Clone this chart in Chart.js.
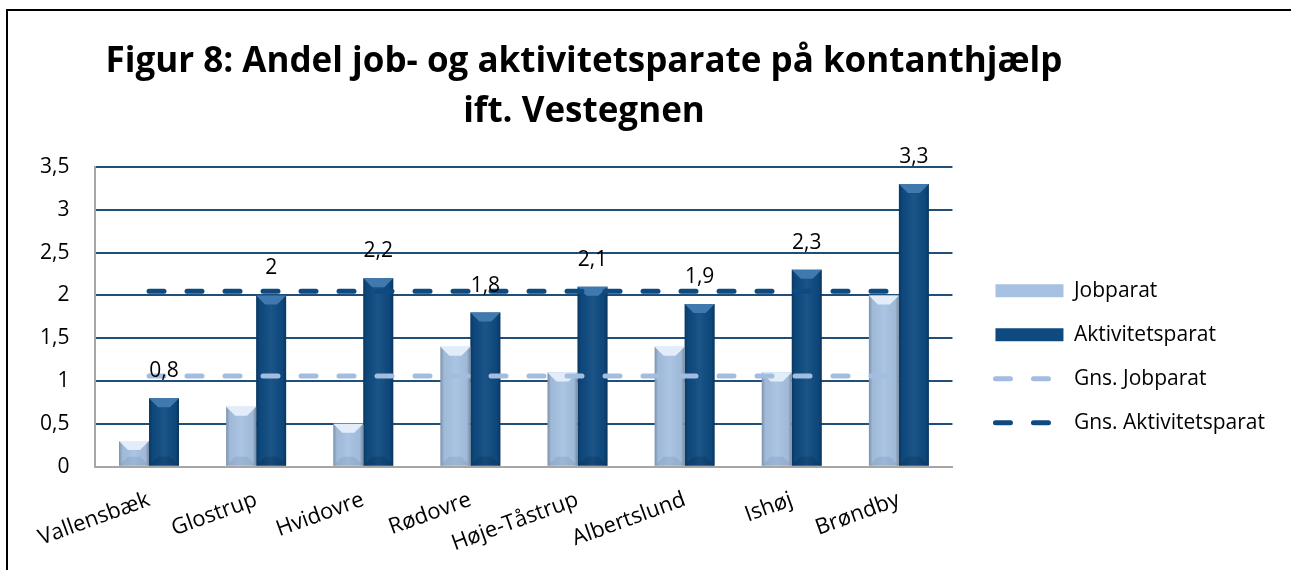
<!DOCTYPE html>
<html>
<head>
<meta charset="utf-8">
<script src="https://cdn.jsdelivr.net/npm/chart.js@4.4.0/dist/chart.umd.min.js"></script>
<style>
  html, body { margin: 0; padding: 0; background: #fff; }
  #wrap { position: relative; width: 1291px; height: 570px; overflow: hidden; }
  #frame { position: absolute; left: 6px; top: 9px; width: 1300px; height: 600px;
           border-top: 2px solid #000; border-left: 2px solid #000; }
  #title { position: absolute; left: 0; top: 34px; width: 1168px; text-align: center;
           font: bold 35px "Open Sans"; line-height: 50px; color: #000; }
  #chart { position: absolute; left: 0; top: 0; }
</style>
</head>
<body>
<div id="wrap">
  <div id="frame"></div>
  <canvas id="chart" width="1291" height="570"></canvas>
  <div id="title">Figur 8: Andel job- og aktivitetsparate på kontanthjælp<br>ift. Vestegnen</div>
</div>
<script>
const kommuner = ['Vallensbæk', 'Glostrup', 'Hvidovre', 'Rødovre', 'Høje-Tåstrup', 'Albertslund', 'Ishøj', 'Brøndby'];
const jobparat = [0.3, 0.7, 0.5, 1.4, 1.1, 1.4, 1.1, 2.0];
const aktivitetsparat = [0.8, 2, 2.2, 1.8, 2.1, 1.9, 2.3, 3.3];
const gnsJobparat = [1.06, 1.06, 1.06, 1.06, 1.06, 1.06, 1.06, 1.06];
const gnsAktivitetsparat = [2.05, 2.05, 2.05, 2.05, 2.05, 2.05, 2.05, 2.05];
const yMin = 0, yMax = 3.5, yStep = 0.5;

const fmt = v => String(v).replace('.', ',');

// light top / dark bottom bevel, shaded sides
const bevel = {
  id: 'bevel',
  afterDatasetDraw(chart, args) {
    if (args.meta.type !== 'bar') return;
    const ctx = chart.ctx;
    const topCol = args.index === 0 ? '#e2edf9' : '#3f79ae';
    const botCol = args.index === 0 ? 'rgba(110,140,180,0.25)' : 'rgba(5,40,75,0.25)';
    ctx.save();
    args.meta.data.forEach(el => {
      const { x, y, base, width } = el.getProps(['x', 'y', 'base', 'width'], true);
      const l = x - width / 2, r = x + width / 2;
      const b = Math.min(9, (base - y) / 2);
      const g = ctx.createLinearGradient(l, 0, r, 0);
      g.addColorStop(0, 'rgba(0,0,0,0.25)');
      g.addColorStop(0.12, 'rgba(0,0,0,0.04)');
      g.addColorStop(0.5, 'rgba(255,255,255,0.06)');
      g.addColorStop(0.88, 'rgba(0,0,0,0.04)');
      g.addColorStop(1, 'rgba(0,0,0,0.28)');
      ctx.fillStyle = g;
      ctx.fillRect(l, y, width, base - y);
      ctx.fillStyle = topCol;
      ctx.beginPath();
      ctx.moveTo(l, y); ctx.lineTo(r, y); ctx.lineTo(r - b, y + b); ctx.lineTo(l + b, y + b);
      ctx.closePath(); ctx.fill();
      ctx.fillStyle = botCol;
      ctx.beginPath();
      ctx.moveTo(l, base); ctx.lineTo(r, base); ctx.lineTo(r - b, base - b); ctx.lineTo(l + b, base - b);
      ctx.closePath(); ctx.fill();
    });
    ctx.restore();
  }
};

// value labels above the Aktivitetsparat bars
const valueLabels = {
  id: 'valueLabels',
  afterDatasetsDraw(chart) {
    const ctx = chart.ctx;
    const meta = chart.getDatasetMeta(1);
    ctx.save();
    ctx.font = '21px "Open Sans"';
    ctx.fillStyle = '#000';
    ctx.textAlign = 'center';
    ctx.textBaseline = 'middle';
    meta.data.forEach((el, i) => ctx.fillText(fmt(aktivitetsparat[i]), el.x, el.y - 27));
    ctx.restore();
  }
};

Chart.defaults.font.family = '"Open Sans"';
Chart.defaults.color = '#000';

const baseLabels = Chart.defaults.plugins.legend.labels.generateLabels;

new Chart(document.getElementById('chart'), {
  type: 'bar',
  data: {
    labels: kommuner,
    datasets: [
      {
        label: 'Jobparat',
        data: jobparat,
        backgroundColor: '#a6c1e1',
        borderWidth: 0,
        pointStyle: 'rect',
        order: 1,
        barPercentage: 1,
        categoryPercentage: 0.56
      },
      {
        label: 'Aktivitetsparat',
        data: aktivitetsparat,
        backgroundColor: '#0e4a80',
        borderWidth: 0,
        pointStyle: 'rect',
        order: 1,
        barPercentage: 1,
        categoryPercentage: 0.56
      },
      {
        type: 'line',
        label: 'Gns. Jobparat',
        data: gnsJobparat,
        borderColor: '#a3bde0',
        backgroundColor: '#a3bde0',
        borderWidth: 5,
        borderDash: [15, 23],
        borderCapStyle: 'round',
        pointRadius: 0,
        pointStyle: 'line',
        fill: false,
        order: 0
      },
      {
        type: 'line',
        label: 'Gns. Aktivitetsparat',
        data: gnsAktivitetsparat,
        borderColor: '#0e4a80',
        backgroundColor: '#0e4a80',
        borderWidth: 5,
        borderDash: [15, 23],
        borderCapStyle: 'round',
        pointRadius: 0,
        pointStyle: 'line',
        fill: false,
        order: 0
      }
    ]
  },
  options: {
    responsive: false,
    animation: false,
    layout: { padding: { left: 14, top: 167, bottom: 1, right: 16 } },
    plugins: {
      title: { display: false },
      tooltip: { enabled: false },
      legend: {
        position: 'right',
        align: 'start',
        maxWidth: 340,
        title: { display: true, text: '', font: { size: 1 }, padding: { top: 89, bottom: 0 } },
        labels: {
          usePointStyle: true,
          pointStyleWidth: 68,
          boxHeight: 13,
          padding: 23,
          font: { size: 21 },
          color: '#000',
          sort: (a, b) => a.datasetIndex - b.datasetIndex,
          generateLabels: chart => baseLabels(chart).map(item => {
            const ds = chart.data.datasets[item.datasetIndex];
            if (ds.type === 'line') {
              item.lineDash = ds.borderDash;
              item.lineCap = ds.borderCapStyle;
              item.lineWidth = ds.borderWidth;
              item.strokeStyle = ds.borderColor;
            }
            return item;
          })
        }
      }
    },
    scales: {
      x: {
        grid: { display: false },
        border: { display: true, color: '#a6a6a6', width: 2 },
        ticks: { font: { size: 22 }, minRotation: 20, maxRotation: 20, padding: 12 }
      },
      y: {
        min: yMin,
        max: yMax,
        ticks: { stepSize: yStep, font: { size: 21 }, padding: 26, callback: v => fmt(v) },
        grid: { color: '#1f4e79', lineWidth: 2, drawTicks: false },
        border: { display: true, color: '#a6a6a6', width: 2 }
      },
      y2: {
        position: 'right',
        display: true,
        grid: { display: false },
        border: { display: false },
        ticks: { display: false },
        afterFit: s => { s.width = 20; }
      }
    }
  },
  plugins: [bevel, valueLabels]
});
</script>
</body>
</html>
